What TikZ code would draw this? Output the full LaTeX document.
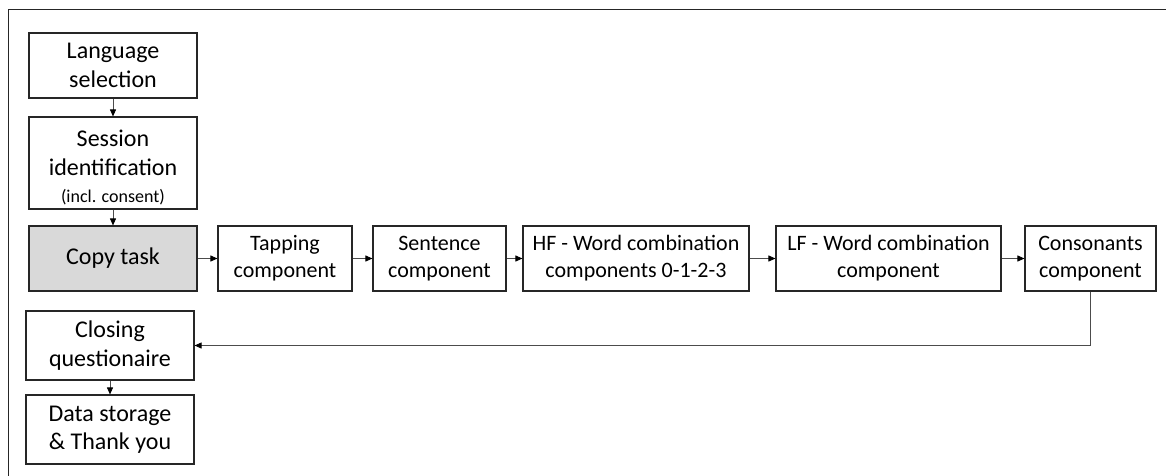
\documentclass[tikz,border=0pt]{standalone}
\usepackage{fontspec}
\setmainfont{Carlito}
\usetikzlibrary{arrows.meta}
\begin{document}
\begin{tikzpicture}[x=1pt,y=-1pt,
  box/.style={draw=black!85,line width=1.1pt,align=center,inner sep=0pt,font=\fontsize{24}{28.5}\selectfont},
  rowbox/.style={box,font=\fontsize{22}{27}\selectfont},
  arr/.style={draw=black!70,line width=0.8pt,-{Triangle[length=7pt,width=6pt,fill=black,color=black]}}]
\useasboundingbox (0,0) rectangle (1166,476);
\begin{scope}
\clip (0,0) rectangle (1166,476);
\draw[black!85,line width=1pt] (8,10) rectangle (1200,500);
\end{scope}
\node[box,minimum width=168pt,minimum height=65pt] (lang) at (113,65.5) {Language\\selection};
\node[box,minimum width=168pt,minimum height=92pt] (sess) at (113,163) {\rule{0pt}{26pt}Session\\identification\\[-1pt]{\fontsize{18}{21}\selectfont (incl. consent)}};
\node[box,fill=black!15,minimum width=168pt,minimum height=65pt] (copy) at (113,258.5) {Copy task};
\node[rowbox,minimum width=134pt,minimum height=65pt] (tap) at (285,258.5) {Tapping\\component};
\node[rowbox,minimum width=133pt,minimum height=65pt] (sent) at (439.5,258.5) {Sentence\\component};
\node[rowbox,minimum width=226pt,minimum height=65pt] (hf) at (636,258.5) {HF - Word combination\\components 0-1-2-3};
\node[rowbox,minimum width=225pt,minimum height=65pt] (lf) at (888.5,258.5) {LF - Word combination\\component};
\node[rowbox,minimum width=131pt,minimum height=65pt] (cons) at (1090.5,258.5) {Consonants\\component};
\node[box,minimum width=168pt,minimum height=69pt] (close) at (110,345.5) {Closing\\questionaire};
\node[box,minimum width=168pt,minimum height=69pt] (data) at (110,429.5) {Data storage\\\& Thank you};
\draw[arr] (lang) -- (sess);
\draw[arr] (sess) -- (copy);
\draw[arr] (copy) -- (tap);
\draw[arr] (tap) -- (sent);
\draw[arr] (sent) -- (hf);
\draw[arr] (hf) -- (lf);
\draw[arr] (lf) -- (cons);
\draw[arr] (cons.south) |- (close.east);
\draw[arr] (close) -- (data);
\end{tikzpicture}
\end{document}
